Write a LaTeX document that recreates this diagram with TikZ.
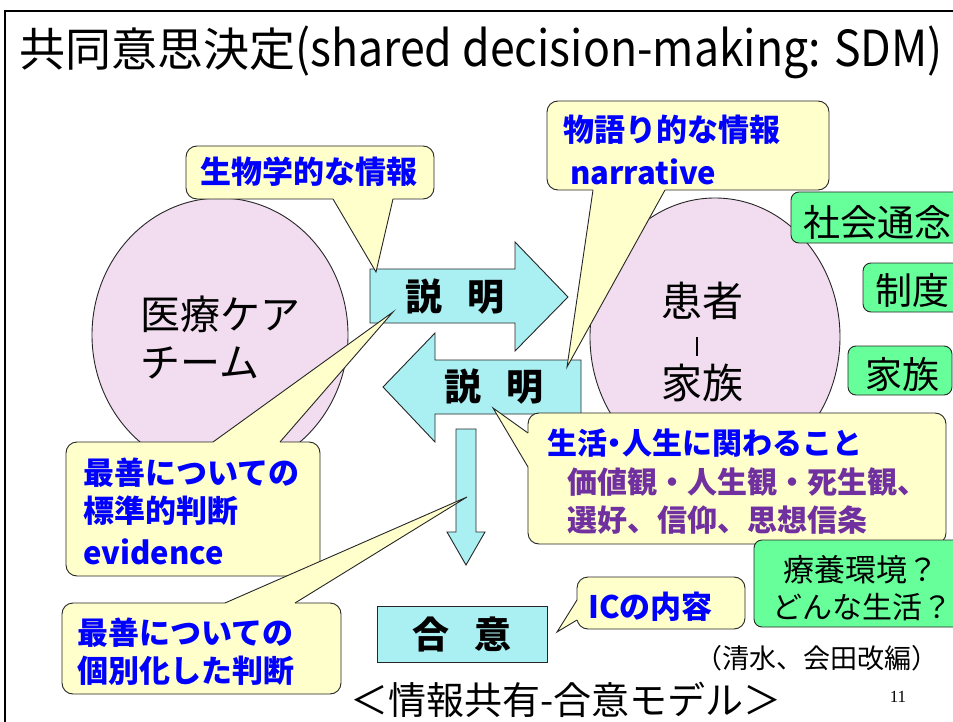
\documentclass[tikz,border=0pt]{standalone}
\usepackage{fontspec}
\usepackage{graphicx}
\setmainfont{Noto Sans CJK JP}
\newfontfamily\numfont{Liberation Serif}
\newcommand{\pdot}{{\addfontfeatures{RawFeature=+palt}・}}
\usetikzlibrary{shapes.geometric}
\definecolor{cyanf}{RGB}{170,239,242}
\definecolor{pinkf}{RGB}{242,220,240}
\definecolor{yelf}{RGB}{255,255,204}
\definecolor{greenf}{RGB}{102,255,153}
\definecolor{blueT}{RGB}{0,0,255}
\definecolor{purpT}{RGB}{112,48,160}
\newcommand{\fs}[1]{\fontsize{#1}{#1}\selectfont}
\begin{document}
\begin{tikzpicture}[x=1pt,y=-1pt,
  outl/.style={draw=black!85,line width=0.9pt},
  ellip/.style={outl,fill=pinkf,ellipse,inner sep=0pt},
  arrowshape/.style={outl,fill=cyanf},
  ybox/.style={outl,fill=yelf,rounded corners=11pt,inner sep=0pt},
  gbox/.style={outl,fill=greenf,rounded corners=8pt,inner sep=0pt},
  txt/.style={inner sep=0pt,anchor=west},
  btxt/.style={txt,text=blueT,font=\bfseries\fs{31}},
  ptxt/.style={txt,text=purpT,font=\bfseries\fs{30}},
  ktxt/.style={inner sep=0pt,font=\bfseries\fs{37}},
  gtxt/.style={txt,font=\fs{37}},
]
\useasboundingbox (0,0) rectangle (953,722);
\clip (0,0) rectangle (953,722);
\fill[white] (0,0) rectangle (953,722);
\draw[line width=2pt] (5,722) -- (5,11) -- (953,11);

% title
\node[txt,font=\fs{46}] (title) at (19,52) {共同意思決定\scalebox{0.97}[1.08]{(shared decision-making: SDM)}};

% ellipses
\node[ellip,minimum width=256pt,minimum height=274pt] (team) at (220,335) {};
\node[txt,font=\fs{40}] (team1) at (140,314) {医療ケア};
\node[txt,font=\fs{40}] (team2) at (140,363) {チーム};
\node[ellip,minimum width=250pt,minimum height=278pt] (pat) at (715,337) {};
\node[inner sep=0pt,font=\fs{41}] (pat1) at (702,301) {患者};
\node[fill=black,inner sep=0pt,minimum width=2pt,minimum height=19pt] (bar) at (697,346.5) {};
\node[inner sep=0pt,font=\fs{41}] (pat2) at (702,383) {家族};

% arrows
\draw[arrowshape] (370,269) -- (515,269) -- (515,242) -- (568,297) -- (515,351) -- (515,323) -- (370,323) -- cycle;
\node[ktxt] (exp1) at (455,297) {説\hspace{0.7em}明};
\draw[arrowshape] (383,387) -- (435,333) -- (435,360) -- (581,360) -- (581,414) -- (435,414) -- (435,442) -- cycle;
\node[ktxt] (exp2) at (494,387) {説\hspace{0.7em}明};
\draw[arrowshape] (456,429) -- (476,429) -- (476,532) -- (485,532) -- (466,565) -- (447,532) -- (456,532) -- cycle;
\node[outl,fill=cyanf,minimum width=170pt,minimum height=56pt,inner sep=0pt,font=\bfseries\fs{37}] (agree) at (462,634) {合\hspace{0.7em}意};

% callout 1
\node[ybox,minimum width=248pt,minimum height=53pt] (c1) at (310,172.5) {};
\coordinate (t1) at (376,272);
\fill[yelf] (333,197.5) -- (333,199) -- (t1) -- (393,199) -- (393,197.5) -- cycle;
\draw[outl] (333,199) -- (t1) -- (393,199);
\node[btxt] (c1a) at (200,172) {生物学的な情報};

% callout 2
\node[ybox,minimum width=282pt,minimum height=89pt] (c2) at (688,145.5) {};
\coordinate (t2) at (567,367);
\fill[yelf] (593,188.5) -- (593,190) -- (t2) -- (665,190) -- (665,188.5) -- cycle;
\draw[outl] (593,190) -- (t2) -- (665,190);
\node[btxt] (c2a) at (563,130) {物語り的な情報};
\node[btxt] (c2b) at (570,172) {narrative};

% callout 3
\node[ybox,minimum width=254pt,minimum height=134pt] (c3) at (193,509) {};
\coordinate (t3) at (393,312);
\fill[yelf] (213,443.5) -- (213,442) -- (t3) -- (280,442) -- (280,443.5) -- cycle;
\draw[outl] (213,442) -- (t3) -- (280,442);
\node[btxt] (c3a) at (83,473) {最善についての};
\node[btxt] (c3b) at (83,511) {標準的判断};
\node[btxt] (c3c) at (83,552) {evidence};

% callout 4
\node[ybox,minimum width=279pt,minimum height=91pt] (c4) at (201.5,648.5) {};
\coordinate (t4) at (467,497);
\fill[yelf] (225,604.5) -- (225,603) -- (t4) -- (295,603) -- (295,604.5) -- cycle;
\draw[outl] (225,603) -- (t4) -- (295,603);
\node[btxt] (c4a) at (77,633) {最善についての};
\node[btxt] (c4b) at (77,671) {個別化した判断};

% callout 5
\node[ybox,minimum width=418pt,minimum height=131pt] (c5) at (737,478.5) {};
\coordinate (t5) at (493,408);
\fill[yelf] (529.5,433) -- (528,433) -- (t5) -- (528,467) -- (529.5,467) -- cycle;
\draw[outl] (528,433) -- (t5) -- (528,467);
\node[btxt,font=\bfseries\fs{30}] (c5a) at (547,443) {生活\pdot 人生に関わること};
\node[ptxt] (c5b) at (567,482) {価値観・人生観・死生観、};
\node[ptxt] (c5c) at (567,520) {選好、信仰、思想信条};

% callout 6
\node[ybox,minimum width=168pt,minimum height=52pt] (c6) at (661,603) {};
\coordinate (t6) at (557,632);
\fill[yelf] (578.5,600) -- (577,600) -- (t6) -- (577,620) -- (578.5,620) -- cycle;
\draw[outl] (577,600) -- (t6) -- (577,620);
\node[btxt] (c6a) at (588,607) {ICの内容};

% green boxes
\node[gbox,minimum width=179pt,minimum height=51pt] (g1) at (880.5,217.5) {};
\node[gtxt] (g1t) at (803,222) {社会通念};
\node[gbox,minimum width=107pt,minimum height=49pt] (g2) at (916.5,287.5) {};
\node[gtxt] (g2t) at (875,290) {制度};
\node[gbox,minimum width=104pt,minimum height=49pt] (g3) at (900,370.5) {};
\node[gtxt] (g3t) at (865,374) {家族};
\node[gbox,minimum width=216pt,minimum height=87pt] (g4) at (862,583.5) {};
\node[txt,font=\fs{31}] (g4a) at (783,570) {療養環境？};
\node[txt,font=\fs{30}] (g4b) at (772,607) {どんな生活？};

% footer
\node[inner sep=0pt,font=\fs{27}] (src) at (817,658) {（清水、会田改編）};
\node[inner sep=0pt,font=\fs{38}] (cap) at (566,700) {＜情報共有-合意モデル＞};
\node[inner sep=0pt,font=\numfont\fs{17}] (pg) at (898,697) {11};
\end{tikzpicture}
\end{document}
